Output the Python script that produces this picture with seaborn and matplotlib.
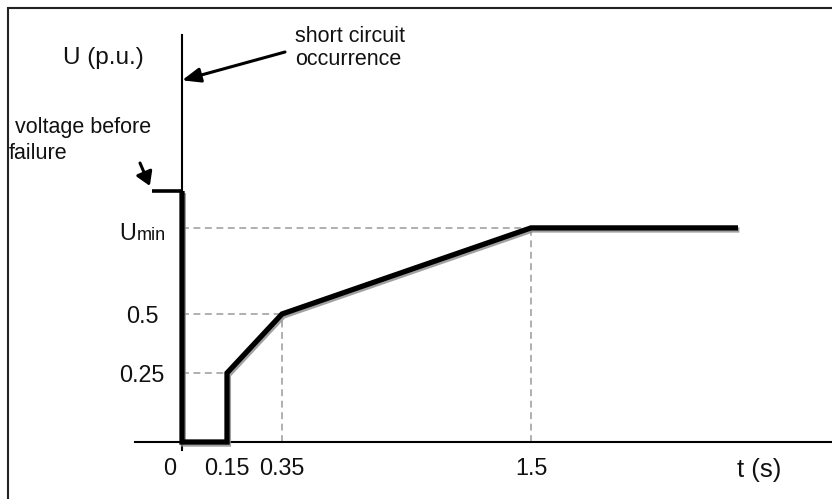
import numpy as np
import pandas as pd
import matplotlib
matplotlib.use("Agg")
import matplotlib.pyplot as plt
import matplotlib.patheffects as pe
import matplotlib.transforms as mtransforms
from matplotlib.patches import Rectangle
import seaborn as sns

# ---------------- data ----------------
PRE_T = [-0.1, 0.0]                     # voltage before failure
PRE_U = [1.0, 1.0]
T = [0.0, 0.0, 0.15, 0.15, 0.35, 1.5, 2.5]   # voltage profile (s)
U = [1.0, 0.0, 0.0, 0.25, 0.5, 0.85, 0.85]   # voltage (p.u.)
U_MIN = 0.85
HGUIDE_T = [0.15, 0.35, 1.5]
HGUIDE_U = [0.25, 0.5, U_MIN]
VGUIDE_T = [0.35, 1.5]
VGUIDE_U = [0.5, U_MIN]
XTICKS = [0, 0.15, 0.35, 1.5]
XTICK_LABELS = ["0", "0.15", "0.35", "1.5"]
YTICKS = [0.25, 0.5, U_MIN]
YTICK_LABELS = ["0.25", "0.5", ""]

# schematic (piecewise) axis scales
X_KNOTS = [-5, 0, 0.15, 0.35, 1.5, 2.5, 10]
X_POS = [-1318, 182, 227, 282, 531, 738, 2290.5]
Y_KNOTS = [-5, 0, 0.25, 0.5, 1.0, 10]
Y_POS = [-1323, 57, 126, 185, 308, 2522]


def fwd_x(t):
    return np.interp(t, X_KNOTS, X_POS)


def inv_x(p):
    return np.interp(p, X_POS, X_KNOTS)


def fwd_y(u):
    return np.interp(u, Y_KNOTS, Y_POS)


def inv_y(p):
    return np.interp(p, Y_POS, Y_KNOTS)


sns.set_style("white")
plt.rcParams["font.family"] = ["Liberation Sans", "DejaVu Sans"]
TXT = "#111111"
FS = 16.8

W, H = 832, 499
fig = plt.figure(figsize=(W / 100, H / 100), dpi=100)
ax = fig.add_axes([135 / W, 49 / H, 697 / W, 415 / H])

df = pd.DataFrame({"t": T, "U": U})
pre = pd.DataFrame({"t": PRE_T, "U": PRE_U})

# guide lines
ax.hlines(HGUIDE_U, 0, HGUIDE_T, colors="#9a9a9a", linewidth=1.1,
          linestyles=(0, (4.5, 3.0)), zorder=1)
ax.vlines(VGUIDE_T, 0, VGUIDE_U, colors="#9a9a9a", linewidth=1.1,
          linestyles=(0, (4.5, 3.0)), zorder=1)

sns.lineplot(data=pre, x="t", y="U", sort=False, estimator=None,
             color="black", linewidth=2.6, ax=ax, zorder=3,
             solid_capstyle="butt")
sns.lineplot(data=df, x="t", y="U", sort=False, estimator=None,
             color="black", linewidth=3.8, ax=ax, zorder=4,
             solid_joinstyle="miter", solid_capstyle="butt",
             path_effects=[pe.SimpleLineShadow(offset=(1.0, -1.5),
                                               shadow_color="#8a8a8a", alpha=0.8),
                           pe.Normal()])

ax.set_xscale("function", functions=(fwd_x, inv_x))
ax.set_yscale("function", functions=(fwd_y, inv_y))
ax.set_xlim(float(inv_x(135)), float(inv_x(832)))
ax.set_ylim(float(inv_y(49)), float(inv_y(464)))

for s in ["top", "right"]:
    ax.spines[s].set_visible(False)
ax.spines["left"].set_position(("data", 0))
ax.spines["bottom"].set_position(("data", 0))
for s in ["left", "bottom"]:
    ax.spines[s].set_color("black")
    ax.spines[s].set_linewidth(1.5)
    ax.spines[s].set_zorder(2)

ax.set_xticks(XTICKS)
ax.set_xticklabels(XTICK_LABELS)
ax.set_yticks(YTICKS)
ax.set_yticklabels(YTICK_LABELS)
ax.minorticks_off()
ax.tick_params(axis="both", length=0, labelsize=FS, labelcolor=TXT)
ax.tick_params(axis="x", pad=11.0)
ax.tick_params(axis="y", pad=28.8)
for lbl in ax.get_yticklabels():
    lbl.set_horizontalalignment("center")

# shift the "0" label slightly left
lbl0 = ax.get_xticklabels()[0]
lbl0.set_transform(lbl0.get_transform() +
                   mtransforms.ScaledTranslation(-12 / 100, 0, fig.dpi_scale_trans))

# axis labels
ax.set_xlabel("t (s)", fontsize=18.5, color=TXT)
ax.xaxis.label.set_va("baseline")
ax.xaxis.set_label_coords((759 - 135) / 697, (450 - 477) / 415)
ax.set_ylabel("U (p.u.)", fontsize=17.5, color=TXT, rotation=0)
ax.yaxis.label.set_va("baseline")
ax.yaxis.label.set_ha("center")
ax.yaxis.set_label_coords((103 - 135) / 697, (450 - 64) / 415)

# U_min label
ax.annotate("U", xy=(0, U_MIN), xytext=(-46, -12), textcoords="offset pixels",
            ha="right", va="baseline", fontsize=FS, color=TXT)
ax.annotate("min", xy=(0, U_MIN), xytext=(-45, -12), textcoords="offset pixels",
            ha="left", va="baseline", fontsize=13, color=TXT)

# annotations (va='baseline' anchors the last line)
fig.text(295 / W, 1 - 65 / H, "short circuit\noccurrence", fontsize=15.5,
         color=TXT, ha="left", va="baseline", linespacing=1.15)
ax.annotate("", xy=(0, 1.45), xycoords="data",
            xytext=(285, H - 52), textcoords="figure pixels",
            arrowprops=dict(arrowstyle="-|>,head_length=0.55,head_width=0.22",
                            mutation_scale=20, lw=2.2, color="black",
                            shrinkA=0, shrinkB=0))
fig.text(9 / W, 1 - 159 / H, " voltage before\nfailure", fontsize=15.5,
         color=TXT, ha="left", va="baseline", linespacing=1.33)
ax.annotate("", xy=(PRE_T[0], PRE_U[0]), xycoords="data",
            xytext=(-12, 28), textcoords="offset pixels",
            arrowprops=dict(arrowstyle="-|>,head_length=0.45,head_width=0.28",
                            mutation_scale=18, lw=2.2, color="black",
                            shrinkA=0, shrinkB=4))

# outer frame (cropped on right/bottom)
fig.add_artist(Rectangle((8 / W, -1), 5, 1 + (H - 8) / H, transform=fig.transFigure,
                         fill=False, lw=1.5, ec="#222222"))

fig.savefig("out.png", dpi=100)
